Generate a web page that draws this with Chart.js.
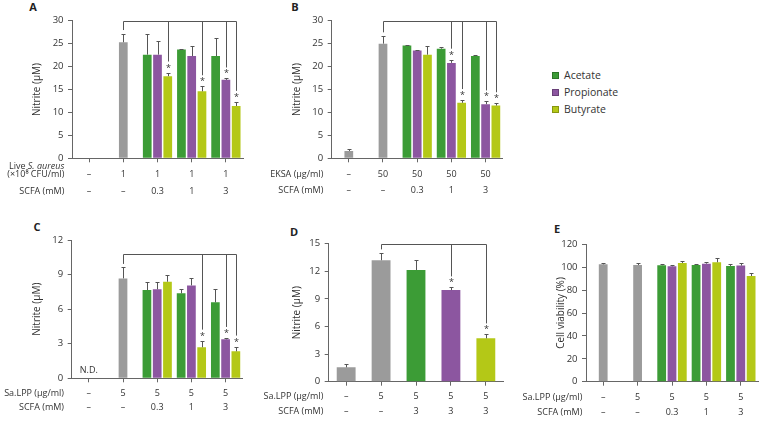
<!DOCTYPE html>
<html>
<head>
<meta charset="utf-8">
<script src="https://cdn.jsdelivr.net/npm/chart.js@4.4.1/dist/chart.umd.min.js"></script>
<style>
  body { margin: 0; background: #fff; width: 764px; height: 421px; position: relative; overflow: hidden; font-family: "Open Sans", sans-serif; }
  canvas { position: absolute; }
  .letter { position: absolute; font: bold 11px "Open Sans", sans-serif; color: #222; line-height: 1; transform: translate(-50%, -50%); }
  .legend { position: absolute; left: 552px; top: 0; font-size: 10.5px; color: #333; }
  .legend div { position: absolute; white-space: nowrap; line-height: 1; }
  .legend span { display: inline-block; width: 7px; height: 7px; margin-right: 5px; vertical-align: 0; box-sizing: border-box; border: 0.5px solid rgba(0,0,0,0.25); }
</style>
</head>
<body>
<div class="letter" style="left:33px;top:6px">A</div>
<div class="letter" style="left:295px;top:6px">B</div>
<div class="letter" style="left:37px;top:226px">C</div>
<div class="letter" style="left:294px;top:231px">D</div>
<div class="letter" style="left:557px;top:228px">E</div>
<div class="legend">
  <div style="top:70px"><span style="background:#3c9c36"></span>Acetate</div>
  <div style="top:87px"><span style="background:#8c56a0"></span>Propionate</div>
  <div style="top:104px"><span style="background:#b4c817"></span>Butyrate</div>
</div>
<script>
const GREEN = '#3c9c36', PURPLE = '#8c56a0', YELLOW = '#b4c817', GRAY = '#9b9b9b';
const TEXT = '#333', AXIS = '#666', FONT = '"Open Sans", sans-serif';

// x rows (treatment table under each panel)
const rowA1 = ['–', '1', '1', '1', '1'];
const rowB1 = ['–', '50', '50', '50', '50'];
const rowLPP = ['–', '5', '5', '5', '5'];
const rowScfa = ['–', '–', '0.3', '1', '3'];
const rowScfaD = ['–', '–', '3', '3', '3'];

// A: live S. aureus
const ctrlA = [null, 25.3, null, null, null];
const ctrlA_sd = [null, 1.9, null, null, null];
const aceA = [null, null, 22.6, 23.7, 22.3];
const aceA_sd = [null, null, 4.6, 0.1, 4.0];
const proA = [null, null, 22.6, 22.3, 17.1];
const proA_sd = [null, null, 2.9, 2.2, 0.3];
const butA = [null, null, 17.9, 14.6, 11.4];
const butA_sd = [null, null, 0.8, 1.1, 0.9];

// B: EKSA
const ctrlB = [1.6, 25.0, null, null, null];
const ctrlB_sd = [0.4, 1.7, null, null, null];
const aceB = [null, null, 24.6, 23.9, 22.3];
const aceB_sd = [null, null, 0.2, 0.3, 0.3];
const proB = [null, null, 23.5, 20.8, 11.8];
const proB_sd = [null, null, 0.1, 0.7, 0.6];
const butB = [null, null, 22.6, 12.1, 11.5];
const butB_sd = [null, null, 1.9, 0.6, 0.5];

// C: Sa.LPP
const ctrlC = [null, 8.67, null, null, null];
const ctrlC_sd = [null, 0.95, null, null, null];
const aceC = [null, null, 7.66, 7.37, 6.59];
const aceC_sd = [null, null, 0.66, 0.35, 1.13];
const proC = [null, null, 7.72, 8.06, 3.38];
const proC_sd = [null, null, 0.66, 0.67, 0.12];
const butC = [null, null, 8.38, 2.69, 2.34];
const butC_sd = [null, null, 0.62, 0.58, 0.41];

// D: Sa.LPP + 3 mM SCFA
const ctrlD = [1.56, 13.2, null, null, null];
const ctrlD_sd = [0.32, 0.8, null, null, null];
const aceD = [null, null, 12.14, null, null];
const aceD_sd = [null, null, 1.06, null, null];
const proD = [null, null, null, 9.96, null];
const proD_sd = [null, null, null, 0.29, null];
const butD = [null, null, null, null, 4.71];
const butD_sd = [null, null, null, null, 0.43];

// E: cell viability
const ctrlE = [102.5, 101.9, null, null, null];
const ctrlE_sd = [1.5, 1.5, null, null, null];
const aceE = [null, null, 101.7, 101.9, 101.1];
const aceE_sd = [null, null, 1.1, 0.6, 2.0];
const proE = [null, null, 100.8, 103.1, 101.4];
const proE_sd = [null, null, 1.1, 1.2, 2.0];
const butE = [null, null, 103.7, 104.3, 92.3];
const butE_sd = [null, null, 2.0, 3.5, 3.0];

// significance vs control: [series, category index]
const sigA = [['but', 2], ['but', 3], ['pro', 4], ['but', 4]];
const sigB = [['pro', 3], ['but', 3], ['pro', 4], ['but', 4]];
const sigC = [['but', 3], ['pro', 4], ['but', 4]];
const sigD = [['pro', 3], ['but', 4]];

function makeSets(ctrl, ctrlSd, ace, aceSd, pro, proSd, but, butSd, single) {
  const st = k => single ? 'one' : k;
  const catPct = 0.9, barPct = single ? 0.6 : 0.85;
  return [
    { key: 'ace', label: 'Acetate', data: ace, sd: aceSd, backgroundColor: GREEN, stack: st('a') },
    { key: 'ctrl', label: 'Control', data: ctrl, sd: ctrlSd, backgroundColor: GRAY, stack: st('m') },
    { key: 'pro', label: 'Propionate', data: pro, sd: proSd, backgroundColor: PURPLE, stack: st('m') },
    { key: 'but', label: 'Butyrate', data: but, sd: butSd, backgroundColor: YELLOW, stack: st('c') }
  ].map(d => Object.assign(d, { categoryPercentage: catPct, barPercentage: barPct, borderWidth: 0 }));
}

function crisp(v) { return Math.round(v) + 0.5; }

function extras(p) {
  return {
    id: 'extras',
    afterDatasetsDraw(chart) {
      const ctx = chart.ctx, y = chart.scales.y;
      const metaOf = key => chart.getDatasetMeta(chart.data.datasets.findIndex(d => d.key === key));
      const dsOf = key => chart.data.datasets.find(d => d.key === key);
      const errTop = (key, i) => { const d = dsOf(key); return y.getPixelForValue(d.data[i] + (d.sd[i] || 0)); };
      ctx.save();
      ctx.strokeStyle = '#555';
      ctx.lineWidth = 1;
      // error bars
      chart.data.datasets.forEach((ds, di) => {
        chart.getDatasetMeta(di).data.forEach((bar, i) => {
          if (ds.data[i] == null || ds.sd[i] == null) return;
          const x = crisp(bar.x), top = crisp(errTop(ds.key, i));
          ctx.beginPath();
          ctx.moveTo(x, bar.y); ctx.lineTo(x, top);
          ctx.moveTo(x - 2, top); ctx.lineTo(x + 2, top);
          ctx.stroke();
        });
      });
      // significance bracket
      if (p.sig) {
        const yTop = crisp(y.getPixelForValue(p.sigTop));
        const x0 = crisp(metaOf('ctrl').data[1].x);
        const stub = errTop('ctrl', 1) - 3.5;
        let xMax = x0;
        ctx.fillStyle = TEXT;
        ctx.font = '9px ' + FONT;
        ctx.textAlign = 'center';
        ctx.textBaseline = 'alphabetic';
        p.sig.forEach(([key, i]) => {
          const x = crisp(metaOf(key).data[i].x);
          const et = errTop(key, i);
          xMax = Math.max(xMax, x);
          ctx.beginPath();
          ctx.moveTo(x, yTop); ctx.lineTo(x, et - 11);
          ctx.stroke();
          ctx.fillText('*', x, et - 7 + 5);
        });
        ctx.beginPath();
        ctx.moveTo(x0, stub); ctx.lineTo(x0, yTop); ctx.lineTo(xMax, yTop);
        ctx.stroke();
      }
      ctx.restore();
    },
    afterDraw(chart) {
      const ctx = chart.ctx, x = chart.scales.x, top = p.box.t, left = p.box.l;
      ctx.save();
      ctx.fillStyle = TEXT;
      ctx.textBaseline = 'middle';
      p.rows.forEach(r => {
        ctx.font = '9px ' + FONT;
        ctx.textAlign = 'center';
        r.values.forEach((v, i) => ctx.fillText(v, x.getPixelForValue(i), r.y - top));
        r.header.forEach(line => {
          let w = 0;
          line.parts.forEach(([t, it]) => { ctx.font = (it ? 'italic ' : '') + '9px ' + FONT; w += ctx.measureText(t).width; });
          let cx = p.headerX - left - w;
          ctx.textAlign = 'left';
          line.parts.forEach(([t, it]) => {
            ctx.font = (it ? 'italic ' : '') + '9px ' + FONT;
            ctx.fillText(t, cx, line.y - top);
            cx += ctx.measureText(t).width;
          });
        });
      });
      if (p.nd) {
        ctx.font = '9px ' + FONT;
        ctx.textAlign = 'center';
        ctx.fillText(p.nd, x.getPixelForValue(0), chart.chartArea.bottom - 8);
      }
      ctx.restore();
    }
  };
}

function makePanel(p) {
  const cv = document.createElement('canvas');
  cv.width = p.box.w; cv.height = p.box.h;
  cv.style.left = p.box.l + 'px'; cv.style.top = p.box.t + 'px';
  document.body.appendChild(cv);
  const yWidth = p.area.l - p.box.l;
  const xHeight = p.box.t + p.box.h - p.area.b;
  new Chart(cv, {
    type: 'bar',
    data: { labels: rowScfa.map((_, i) => 'g' + i), datasets: p.datasets },
    options: {
      responsive: false,
      animation: false,
      devicePixelRatio: 1,
      layout: { padding: { top: p.area.t - p.box.t, right: p.box.l + p.box.w - p.area.r, left: 0, bottom: 0 } },
      plugins: { legend: { display: false }, tooltip: { enabled: false } },
      scales: {
        x: {
          grid: { offset: false, drawOnChartArea: false, tickLength: 4, tickColor: AXIS },
          border: { color: AXIS },
          ticks: { display: false },
          afterFit: s => { s.height = xHeight; }
        },
        y: {
          min: 0, max: p.yMax,
          ticks: { stepSize: p.yStep, color: TEXT, padding: 4.5, font: { family: FONT, size: 9.5 } },
          grid: { drawOnChartArea: false, tickLength: 4, tickColor: AXIS },
          border: { color: AXIS },
          title: { display: true, text: p.yTitle, color: TEXT, font: { family: FONT, size: 10 },
                   padding: { top: p.titleX - p.box.l - 6, bottom: 0 } },
          afterFit: s => { s.width = yWidth; }
        }
      }
    },
    plugins: [extras(p)]
  });
}

const scfaHead = [{ y: 0, parts: [['SCFA (mM)', false]] }];

makePanel({
  box: { l: 0, t: 0, w: 255, h: 205 }, area: { l: 72, r: 243, t: 20.7, b: 158.3 },
  yMax: 30, yStep: 5, yTitle: 'Nitrite (μM)', titleX: 36.7, headerX: 64.3,
  datasets: makeSets(ctrlA, ctrlA_sd, aceA, aceA_sd, proA, proA_sd, butA, butA_sd, false),
  sig: sigA, sigTop: 30,
  rows: [
    { y: 174, values: rowA1, header: [
      { y: 166.7, parts: [['Live ', false], ['S. aureus', true]] },
      { y: 174.5, parts: [['(×10⁸ CFU/ml)', false]] }] },
    { y: 191.5, values: rowScfa, header: [{ y: 191.5, parts: [['SCFA (mM)', false]] }] }
  ]
});

makePanel({
  box: { l: 258, t: 0, w: 255, h: 205 }, area: { l: 331.7, r: 502.7, t: 20.7, b: 158.3 },
  yMax: 30, yStep: 5, yTitle: 'Nitrite (μM)', titleX: 296.7, headerX: 323.3,
  datasets: makeSets(ctrlB, ctrlB_sd, aceB, aceB_sd, proB, proB_sd, butB, butB_sd, false),
  sig: sigB, sigTop: 30,
  rows: [
    { y: 174, values: rowB1, header: [{ y: 174, parts: [['EKSA (μg/ml)', false]] }] },
    { y: 190.7, values: rowScfa, header: [{ y: 190.7, parts: [['SCFA (mM)', false]] }] }
  ]
});

makePanel({
  box: { l: 0, t: 212, w: 255, h: 209 }, area: { l: 71.7, r: 242.7, t: 240, b: 378.3 },
  yMax: 12, yStep: 3, yTitle: 'Nitrite (μM)', titleX: 36.7, headerX: 64,
  datasets: makeSets(ctrlC, ctrlC_sd, aceC, aceC_sd, proC, proC_sd, butC, butC_sd, false),
  sig: sigC, sigTop: 10.8, nd: 'N.D.',
  rows: [
    { y: 393.3, values: rowLPP, header: [{ y: 393.3, parts: [['Sa.LPP (μg/ml)', false]] }] },
    { y: 407.7, values: rowScfa, header: [{ y: 407.7, parts: [['SCFA (mM)', false]] }] }
  ]
});

makePanel({
  box: { l: 258, t: 212, w: 255, h: 209 }, area: { l: 328.7, r: 503.3, t: 243.7, b: 381.7 },
  yMax: 15, yStep: 3, yTitle: 'Nitrite (μM)', titleX: 296.7, headerX: 323.3,
  datasets: makeSets(ctrlD, ctrlD_sd, aceD, aceD_sd, proD, proD_sd, butD, butD_sd, true),
  sig: sigD, sigTop: 15,
  rows: [
    { y: 396.7, values: rowLPP, header: [{ y: 396.7, parts: [['Sa.LPP (μg/ml)', false]] }] },
    { y: 411.7, values: rowScfaD, header: [{ y: 411.7, parts: [['SCFA (mM)', false]] }] }
  ]
});

makePanel({
  box: { l: 515, t: 212, w: 249, h: 209 }, area: { l: 586, r: 758, t: 244.3, b: 381.7 },
  yMax: 120, yStep: 20, yTitle: 'Cell viability (%)', titleX: 561, headerX: 582.3,
  datasets: makeSets(ctrlE, ctrlE_sd, aceE, aceE_sd, proE, proE_sd, butE, butE_sd, false),
  rows: [
    { y: 397.3, values: rowLPP, header: [{ y: 397.3, parts: [['Sa.LPP (μg/ml)', false]] }] },
    { y: 412.3, values: rowScfa, header: [{ y: 412.3, parts: [['SCFA (mM)', false]] }] }
  ]
});
</script>
</body>
</html>
